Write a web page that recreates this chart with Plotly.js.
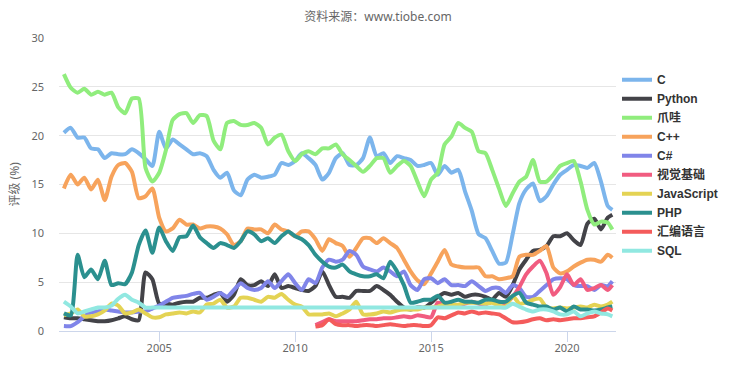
<!DOCTYPE html>
<html>
<head>
<meta charset="utf-8">
<script src="https://cdn.plot.ly/plotly-3.0.1.min.js"></script>
<style>html,body{margin:0;padding:0;background:#fff;}#chart{width:735px;height:387px;}</style>
</head>
<body>
<div id="chart"></div>
<script>
// quarterly samples from 2001-07 to 2021-07, plus the last month 2021-09
const FIRST_YEAR = 2001, FIRST_MONTH = 7, STEP_MONTHS = 3, LAST_QUARTER = '2021-07', LAST_MONTH = '2021-09';
const dates = [];
(function () {
  let y = FIRST_YEAR, m = FIRST_MONTH;
  while (true) {
    const s = y + '-' + (m < 10 ? '0' + m : m);
    dates.push(s + '-01');
    if (s === LAST_QUARTER) break;
    m += STEP_MONTHS; if (m > 12) { m -= 12; y += 1; }
  }
  dates.push(LAST_MONTH + '-01');
})();

const seriesNames = ['C', 'Python', '爪哇', 'C++', 'C#', '视觉基础', 'JavaScript', 'PHP', '汇编语言', 'SQL'];
const seriesColors = ['#7cb5ec', '#434348', '#90ed7d', '#f7a35c', '#8085e9', '#f15c80', '#e4d354', '#2b908f', '#f45b5b', '#91e8e1'];

const cValues = [20.3, 20.8, 19.8, 19.8, 18.7, 18.6, 17.7, 18.2, 18.1, 18.1, 18.6, 18.2, 17.6, 16.9, 20.4, 18.7, 19.6, 19.1, 18.6, 18.1, 18.2,
  17.9, 16.5, 15.7, 16.2, 14.4, 13.9, 15.5, 16.0, 15.7, 15.8, 16.0, 17.2, 17.0, 17.4, 18.2, 17.7, 17.0, 15.5, 16.2, 17.7,
  18.2, 17.0, 17.0, 17.7, 19.8, 17.9, 18.2, 17.2, 17.9, 17.7, 17.5, 16.9, 17.0, 17.2, 16.0, 16.9, 16.2, 16.5, 14.3, 12.3, 9.9,
  9.5, 8.2, 6.9, 7.0, 9.9, 13.1, 14.5, 15.1, 13.3, 13.8, 15.0, 16.0, 16.5, 17.0, 16.9, 16.7, 17.2, 15.3, 12.8, 12.4];
const pythonValues = [1.4, 1.3, 1.3, 1.2, 1.1, 1.0, 1.0, 1.1, 1.3, 1.5, 1.2, 1.1, 6.0, 5.3, 2.8, 2.8, 2.7, 2.9, 3.0, 3.0, 3.4,
  3.4, 3.7, 3.9, 3.0, 3.7, 5.3, 4.7, 4.7, 5.1, 4.6, 5.8, 4.4, 4.6, 4.4, 4.2, 4.1, 4.6, 6.1, 4.7, 3.5,
  3.5, 3.4, 4.1, 4.1, 4.1, 4.6, 4.2, 3.7, 3.0, 2.4, 2.2, 2.4, 2.4, 2.9, 3.5, 3.9, 3.7, 3.9, 3.5, 3.7, 3.7,
  3.5, 3.2, 3.9, 3.5, 4.7, 6.3, 7.3, 8.2, 8.3, 8.7, 9.7, 9.7, 10.0, 9.3, 8.8, 11.0, 11.5, 10.4, 11.6, 11.9];
const javaValues = [26.3, 24.9, 24.4, 24.8, 24.2, 24.5, 24.2, 24.4, 22.9, 22.3, 23.8, 23.8, 16.7, 15.3, 16.2, 18.5, 21.6, 22.2, 22.3, 21.3, 22.1,
  22.0, 19.5, 18.6, 21.3, 21.5, 21.1, 21.1, 21.3, 20.8, 19.1, 19.8, 20.1, 18.4, 17.4, 18.1, 18.4, 18.1, 18.7, 18.7, 19.1,
  18.1, 17.5, 16.9, 16.3, 16.9, 17.7, 17.7, 16.2, 16.9, 17.4, 16.9, 15.3, 13.8, 15.5, 16.2, 19.1, 19.9, 21.3, 20.8, 20.4, 18.4,
  18.2, 16.5, 14.6, 12.8, 14.1, 15.3, 15.8, 17.5, 15.3, 15.3, 16.0, 16.9, 17.2, 17.4, 15.3, 12.4, 10.9, 11.2, 11.1, 10.4];
const cppValues = [14.6, 16.0, 15.0, 15.7, 14.5, 15.5, 13.4, 15.8, 17.0, 17.2, 16.3, 13.6, 13.8, 14.6, 11.6, 10.2, 10.5, 11.4, 10.9, 10.9, 10.5,
  10.7, 10.7, 10.5, 9.9, 8.8, 9.2, 10.5, 10.4, 10.4, 10.0, 10.9, 10.4, 10.2, 9.7, 10.2, 10.2, 9.4, 8.2, 9.4, 9.0,
  8.7, 7.6, 8.5, 9.5, 9.5, 9.0, 9.5, 9.0, 8.5, 7.3, 6.1, 5.2, 4.8, 5.9, 7.1, 8.3, 6.8, 6.6, 6.5, 6.5, 6.5,
  5.6, 5.6, 5.3, 5.4, 5.6, 7.6, 7.8, 7.8, 8.2, 8.7, 6.5, 5.9, 6.1, 6.6, 7.0, 7.3, 7.3, 7.1, 7.8, 7.5];
const csharpValues = [0.5, 0.5, 0.9, 1.5, 1.9, 2.0, 2.2, 2.1, 2.0, 1.9, 1.9, 2.0, 2.0, 2.3, 2.6, 3.0, 3.4, 3.5, 3.6, 3.8, 3.9,
  3.2, 3.5, 3.9, 3.5, 4.2, 4.9, 4.4, 4.2, 4.4, 5.1, 4.4, 5.1, 5.8, 4.9, 4.2, 5.3, 4.9, 6.5, 7.3, 7.1,
  7.3, 8.2, 7.8, 6.6, 6.3, 6.1, 6.5, 6.1, 5.6, 6.1, 4.7, 4.2, 5.3, 5.4, 4.9, 5.3, 4.7, 4.7, 4.6, 5.1, 4.6,
  4.1, 4.4, 4.4, 3.9, 4.7, 4.4, 3.5, 3.5, 4.1, 4.7, 5.3, 5.4, 5.3, 4.7, 4.6, 4.6, 4.2, 4.7, 4.6, 5.1];
const vbValues = [null, null, null, null, null, null, null, null, null, null, null, null, null, null, null, null, null, null, null, null, null,
  null, null, null, null, null, null, null, null, null, null, null, null, null, null, null, null, 0.6, 0.9, 1.2, 1.0,
  1.0, 1.0, 1.0, 1.1, 1.2, 1.2, 1.3, 1.3, 1.4, 1.5, 1.4, 1.6, 1.5, 1.4, 2.9, 2.7, 2.6, 2.5, 2.8, 3.0, 2.8,
  2.7, 3.1, 3.0, 2.8, 3.5, 4.5, 5.8, 6.6, 7.2, 5.9, 3.7, 4.5, 5.8, 4.7, 5.3, 4.2, 4.4, 4.7, 4.2, 4.7];
const jsValues = [1.6, 1.8, 2.2, 1.5, 1.5, 1.7, 2.1, 2.8, 2.6, 1.8, 1.9, 2.2, 1.8, 1.4, 1.4, 1.7, 1.8, 1.9, 1.8, 2.0, 1.9,
  2.7, 2.8, 3.2, 2.4, 2.5, 3.4, 3.4, 3.2, 3.0, 3.5, 3.4, 3.8, 3.2, 2.7, 2.5, 1.7, 1.7, 1.7, 1.8, 1.5,
  1.8, 2.2, 3.0, 1.7, 1.7, 1.8, 2.0, 1.9, 2.1, 2.2, 2.2, 2.2, 2.4, 2.4, 2.5, 2.7, 2.7, 2.7, 2.9, 2.9, 2.9,
  2.8, 2.9, 2.6, 2.5, 3.6, 2.8, 2.9, 3.2, 3.3, 2.4, 2.3, 2.4, 2.3, 2.4, 2.5, 2.4, 2.7, 2.5, 2.7, 3.0];
const phpValues = [1.8, 1.6, 7.8, 5.5, 6.3, 5.3, 7.2, 4.7, 4.9, 4.8, 6.0, 8.8, 10.3, 8.0, 10.6, 9.2, 8.2, 9.6, 9.7, 10.8, 9.6,
  9.0, 8.5, 9.0, 8.8, 8.5, 9.2, 10.2, 9.9, 9.2, 9.5, 9.0, 9.7, 10.2, 9.7, 9.4, 8.8, 7.8, 7.1, 6.6, 6.5,
  6.8, 6.1, 5.8, 5.6, 5.6, 5.8, 5.4, 7.1, 6.1, 4.7, 2.9, 3.0, 3.2, 3.2, 3.6, 2.9, 3.0, 3.2, 3.0, 3.0, 2.9,
  3.2, 3.2, 3.0, 3.0, 3.6, 3.9, 2.9, 2.7, 2.5, 2.5, 2.2, 2.4, 2.0, 2.5, 2.2, 2.2, 2.1, 2.2, 2.4, 2.5];
const asmValues = [null, null, null, null, null, null, null, null, null, null, null, null, null, null, null, null, null, null, null, null, null,
  null, null, null, null, null, null, null, null, null, null, null, null, null, null, null, null, 0.45, 0.6, 1.2, 0.7,
  0.6, 0.6, 0.5, 0.6, 0.6, 0.5, 0.6, 0.7, 0.6, 0.5, 0.6, 0.6, 0.5, 0.6, 1.4, 1.3, 1.6, 1.9, 1.8, 2.0, 1.8,
  1.9, 1.8, 1.7, 1.3, 0.9, 0.9, 1.0, 1.2, 1.3, 1.1, 1.2, 1.1, 1.2, 1.3, 1.3, 1.4, 1.5, 1.9, 2.3, 2.1];
const sqlValues = [3.0, 2.5, 1.8, 2.0, 2.2, 2.4, 2.4, 2.6, 3.3, 3.7, 3.2, 2.9, 2.4, 2.4, 2.4, 2.4, 2.4, 2.4, 2.4, 2.4, 2.4,
  2.4, 2.4, 2.4, 2.4, 2.4, 2.4, 2.4, 2.4, 2.4, 2.4, 2.4, 2.4, 2.4, 2.4, 2.4, 2.4, 2.4, 2.4, 2.4, 2.4,
  2.4, 2.4, 2.4, 2.4, 2.4, 2.4, 2.4, 2.4, 2.4, 2.4, 2.4, 2.4, 2.4, 2.4, 2.4, 2.4, 2.4, 2.4, 2.4, 2.4, 2.4,
  2.4, 2.4, 2.4, 2.4, 2.8, 2.5, 2.2, 2.0, 2.2, 2.2, 2.0, 1.7, 1.7, 2.0, 1.5, 1.8, 2.0, 1.8, 1.7, 1.5];

const allValues = [cValues, pythonValues, javaValues, cppValues, csharpValues, vbValues, jsValues, phpValues, asmValues, sqlValues];

const yTicks = [0, 5, 10, 15, 20, 25, 30];
const xTickYears = ['2005', '2010', '2015', '2020'];

const traces = allValues.map((vals, i) => ({
  type: 'scatter',
  mode: 'lines',
  name: seriesNames[i],
  x: dates,
  y: vals,
  connectgaps: false,
  line: { color: seriesColors[i], width: 4, shape: 'spline', smoothing: 0.6 },
  hoverinfo: 'skip'
}));

const layout = {
  width: 735,
  height: 387,
  margin: { l: 59, r: 119, t: 38, b: 56, pad: 0 },
  paper_bgcolor: '#ffffff',
  plot_bgcolor: '#ffffff',
  title: {
    text: '资料来源：www.tiobe.com',
    font: { family: 'Noto Sans, Noto Sans CJK SC, sans-serif', size: 12, color: '#666666' },
    xref: 'container', yref: 'container',
    x: 378 / 735, xanchor: 'center',
    y: 1 - 17 / 387, yanchor: 'middle'
  },
  xaxis: {
    type: 'date',
    range: ['2001-04-26', '2021-10-20'],
    tickvals: xTickYears.map(y => y + '-01-01'),
    ticktext: xTickYears,
    showgrid: false,
    zeroline: false,
    showline: true,
    linecolor: '#ccd6eb',
    linewidth: 1,
    ticks: 'outside',
    ticklen: 10,
    tickcolor: '#ccd6eb',
    ticklabelstandoff: -3,
    tickfont: { family: 'Noto Sans, sans-serif', size: 11, color: '#666666' }
  },
  yaxis: {
    range: [0, 30],
    tickvals: yTicks,
    showgrid: true,
    gridcolor: '#e6e6e6',
    gridwidth: 1,
    zeroline: false,
    showline: false,
    ticks: '',
    ticklabelstandoff: 14,
    tickfont: { family: 'Noto Sans, sans-serif', size: 11, color: '#666666' }
  },
  legend: {
    xref: 'container', yref: 'container',
    x: 617 / 735, xanchor: 'left',
    y: 1 - 162 / 387, yanchor: 'middle',
    bgcolor: 'rgba(0,0,0,0)',
    borderwidth: 0,
    traceorder: 'normal',
    font: { family: 'Liberation Sans, Noto Sans CJK SC, sans-serif', size: 12, color: '#333333', weight: 'bold' }
  },
  annotations: [{
    text: '评级 (%)',
    textangle: -90,
    xref: 'paper', yref: 'paper',
    x: (14 - 59) / 557, y: 0.5,
    xanchor: 'center', yanchor: 'middle',
    showarrow: false,
    font: { family: 'Noto Sans, Noto Sans CJK SC, sans-serif', size: 12, color: '#666666' }
  }],
  showlegend: true
};

Plotly.newPlot('chart', traces, layout, { displayModeBar: false, staticPlot: true });
</script>
</body>
</html>
